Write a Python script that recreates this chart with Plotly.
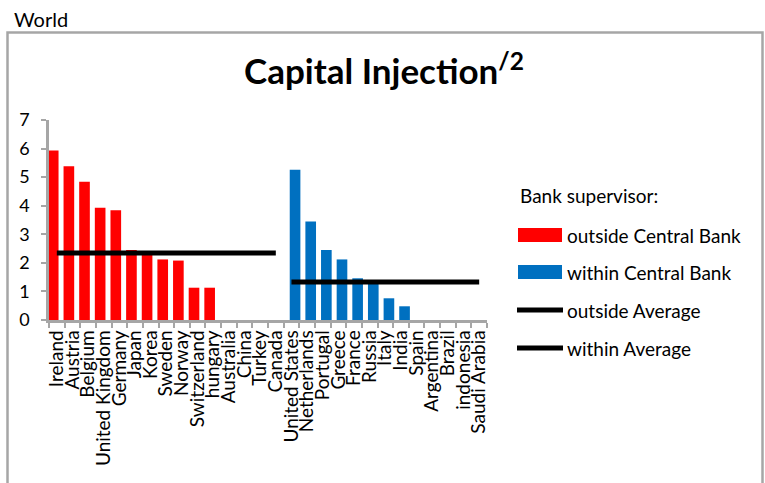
import plotly.graph_objects as go
import numpy as np

# Countries whose bank supervisor sits outside the central bank
outside_countries = ["Ireland", "Austria", "Belgium", "United Kingdom", "Germany", "Japan",
                     "Korea", "Sweden", "Norway", "Switzerland", "hungary", "Australia",
                     "China", "Turkey", "Canada"]
outside_values = [5.93, 5.38, 4.84, 3.93, 3.84, 2.45, 2.28, 2.12, 2.08, 1.13, 1.13, 0, 0, 0, 0]

# Countries whose bank supervisor sits within the central bank
within_countries = ["United States", "Netherlands", "Portugal", "Greece", "France", "Russia",
                    "Italy", "India", "Spain", "Argentina", "Brazil", "indonesia", "Saudi Arabia"]
within_values = [5.26, 3.45, 2.45, 2.12, 1.46, 1.30, 0.76, 0.48, 0, 0, 0, 0, 0]

y_ticks = [0, 1, 2, 3, 4, 5, 6, 7]

outside_avg = float(np.mean(outside_values))
within_avg = float(np.mean(within_values))

all_countries = outside_countries + within_countries

RED = "#FF0000"
BLUE = "#0070C0"
GREY = "#A6A6A6"
FONT = "Lato"

# page / plot-area geometry in pixels
W, H = 765, 483
L, R, T, B = 49, 278, 120, 163
PW, PH = W - L - R, H - T - B


def px(x):
    return (x - L) / PW


def py(y):
    return (H - B - y) / PH


fig = go.Figure()

fig.add_trace(go.Bar(x=outside_countries, y=outside_values, name="outside Central Bank",
                     marker=dict(color=RED, line_width=0), width=0.68, offset=-0.57))
fig.add_trace(go.Bar(x=within_countries, y=within_values, name="within Central Bank",
                     marker=dict(color=BLUE, line_width=0), width=0.68, offset=-0.11))
fig.add_trace(go.Scatter(x=outside_countries, y=[outside_avg] * len(outside_countries),
                         mode="lines", name="outside Average",
                         line=dict(color="black", width=5)))
fig.add_trace(go.Scatter(x=within_countries, y=[within_avg] * len(within_countries),
                         mode="lines", name="within Average",
                         line=dict(color="black", width=5)))

shapes = [
    # outer chart frame
    dict(type="rect", xref="paper", yref="paper",
         x0=px(7.5), x1=px(762.5), y0=py(500), y1=py(32.5),
         line=dict(color=GREY, width=2.5), fillcolor="rgba(0,0,0,0)", layer="below"),
    # legend keys
    dict(type="rect", xref="paper", yref="paper", x0=px(518), x1=px(562),
         y0=py(242), y1=py(228), fillcolor=RED, line_width=0),
    dict(type="rect", xref="paper", yref="paper", x0=px(518), x1=px(562),
         y0=py(279), y1=py(265), fillcolor=BLUE, line_width=0),
    dict(type="line", xref="paper", yref="paper", x0=px(517), x1=px(563),
         y0=py(310), y1=py(310), line=dict(color="black", width=5)),
    dict(type="line", xref="paper", yref="paper", x0=px(517), x1=px(563),
         y0=py(348), y1=py(348), line=dict(color="black", width=5)),
]

legend_text = [("Bank supervisor:", 518, 195),
               ("outside Central Bank", 565, 235),
               ("within Central Bank", 565, 272),
               ("outside Average", 565, 310),
               ("within Average", 565, 348)]
annotations = [dict(text=t, xref="paper", yref="paper", x=px(x), y=py(y),
                    xanchor="left", yanchor="middle", showarrow=False,
                    font=dict(family=FONT, size=19, color="black"))
               for t, x, y in legend_text]
annotations.append(dict(text="World", xref="paper", yref="paper", x=px(12), y=py(19),
                        xanchor="left", yanchor="middle", showarrow=False,
                        font=dict(family=FONT, size=20, color="black")))

fig.update_layout(
    width=W, height=H,
    margin=dict(l=L, r=R, t=T, b=B),
    paper_bgcolor="white", plot_bgcolor="white",
    barmode="overlay",
    showlegend=False,
    font=dict(family=FONT, size=18, color="black"),
    title=dict(text="<b>Capital Injection<sup>/2</sup></b>", xref="container", yref="container",
               x=384 / W, y=1 - 72 / H, xanchor="center", yanchor="middle",
               font=dict(family=FONT, size=35, color="black")),
    shapes=shapes,
    annotations=annotations,
    xaxis=dict(type="category", categoryorder="array", categoryarray=all_countries,
               tickmode="array", tickvals=all_countries, ticktext=all_countries,
               range=[-0.5, len(all_countries) - 0.5],
               tickangle=-90, ticks="outside", tickson="boundaries", ticklen=5,
               tickcolor=GREY, tickwidth=2, showline=True, linecolor=GREY, linewidth=2.5,
               showgrid=False, zeroline=False, tickfont=dict(size=19)),
    yaxis=dict(range=[0, 7], tickvals=y_ticks, ticks="outside", ticklen=5,
               tickcolor=GREY, tickwidth=2, showline=True, linecolor=GREY, linewidth=2.5,
               showgrid=False, zeroline=False, ticklabelstandoff=8,
               tickfont=dict(size=18)),
)

fig.write_html("out.html")
